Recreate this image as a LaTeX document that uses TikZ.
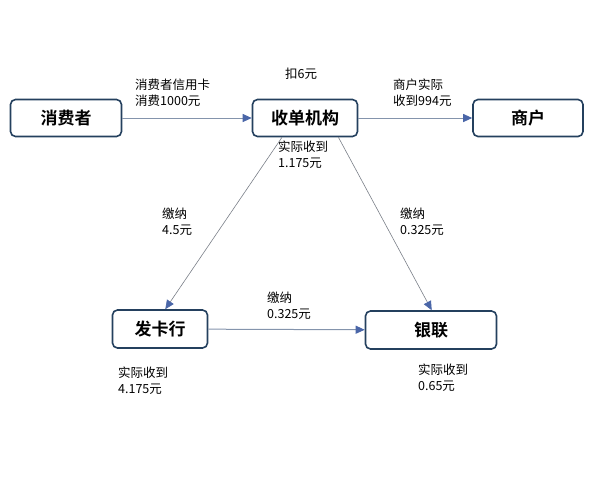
\documentclass[tikz,border=0pt]{standalone}
\usepackage{fontspec}
\newfontfamily\cjk{Noto Sans CJK SC}[BoldFont={Noto Sans CJK SC Bold}]
\usetikzlibrary{arrows.meta}
\definecolor{boxline}{HTML}{24405E}
\definecolor{flowline}{HTML}{8494AC}
\definecolor{tipblue}{HTML}{4A66A8}
\definecolor{slant}{HTML}{7A7F88}
\tikzset{
  party/.style={draw=boxline,line width=1.6pt,rounded corners=5pt,fill=white,
    minimum height=37pt,font=\cjk\bfseries\fontsize{17}{20}\selectfont},
  flow/.style={draw=flowline,line width=1pt,-{Triangle[length=9pt,width=8pt,color=tipblue]}},
  slantflow/.style={draw=slant,line width=0.6pt,-{Triangle[length=9pt,width=8pt,color=tipblue]}},
  note/.style={anchor=north west,inner sep=0pt,align=left,
    font=\cjk\fontsize{12.5}{15.5}\selectfont}
}
\begin{document}
\begin{tikzpicture}[x=1pt,y=-1pt]
        \useasboundingbox (0,0) rectangle (600,480);
        % Draw the five parties
        \node[party,minimum width=111pt] (consumer) at (66,118) {消费者};
        \node[party,minimum width=105pt] (acquirer) at (305,118) {收单机构};
        \node[party,minimum width=110pt] (merchant) at (528,118) {商户};
        \node[party,minimum width=95pt,minimum height=38pt] (issuer) at (160,329) {发卡行};
        \node[party,minimum width=131pt,minimum height=38pt] (unionpay) at (431,330) {银联};
        % Draw payment flows along the top row
        \draw[flow] (consumer) -- (acquirer);
        \draw[flow] (acquirer) -- (merchant);
        % Draw fee flows from the acquirer
        \draw[slantflow] (acquirer.220) -- (issuer.75);
        \draw[slantflow] (acquirer.330) -- (unionpay.88);
        % Draw fee flow from issuer to UnionPay
        \draw[flow] (issuer) -- (unionpay);
        % Draw amount labels
        \node[note] (paid) at (135,79) {消费者信用卡\\消费1000元};
        \node[note] (cut) at (285,68) {扣6元};
        \node[note] (merchantgets) at (393,79) {商户实际\\收到994元};
        \node[note] (acquirergets) at (278,141) {实际收到\\1.175元};
        \node[note] (toissuer) at (162,208) {缴纳\\4.5元};
        \node[note] (tounionpay) at (400,208) {缴纳\\0.325元};
        \node[note] (issuerpays) at (267,292) {缴纳\\0.325元};
        \node[note] (issuergets) at (118,367) {实际收到\\4.175元};
        \node[note] (unionpaygets) at (418,364) {实际收到\\0.65元};
\end{tikzpicture}
\end{document}
